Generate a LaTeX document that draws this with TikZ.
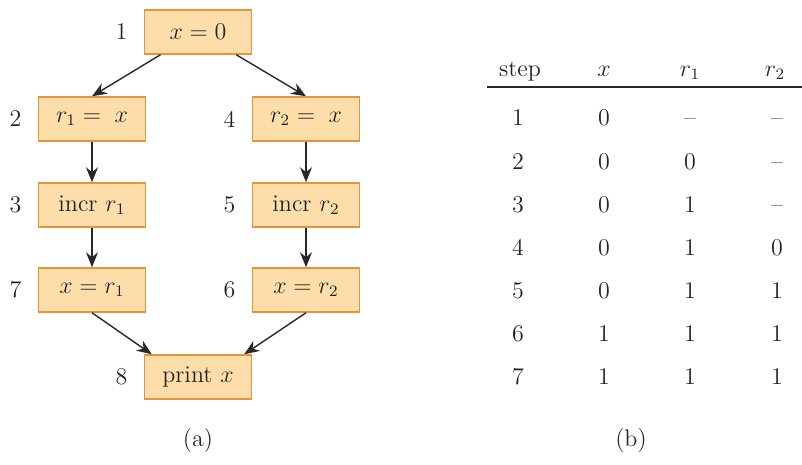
\documentclass[tikz,border=0pt]{standalone}
\usepackage{amsmath}
\usepackage{tikz}
\usetikzlibrary{arrows.meta, positioning}
\definecolor{boxfill}{RGB}{253,222,170}
\definecolor{boxline}{RGB}{230,148,58}
\definecolor{mydark}{RGB}{40,40,40}
\definecolor{mytext}{RGB}{35,35,35}
\tikzset{
  stmt/.style={rectangle, draw=boxline, fill=boxfill, line width=0.75pt,
    minimum width=53.5pt, minimum height=22pt, inner sep=0pt,
    font=\large, text=mytext},
  numlbl/.style={font=\large, text=mytext, inner sep=0pt},
  cell/.style={font=\large, text=mytext, anchor=base, inner sep=0pt},
  arrow/.style={-{Stealth[length=7.5pt, width=6pt, inset=2.5pt]},
    line width=0.7pt, color=mydark},
  rule/.style={line width=0.7pt, color=mydark}
}

\begin{document}
\begin{tikzpicture}[x=0.5pt, y=-0.5pt]
  \useasboundingbox (0,0) rectangle (802,465);
  % (a) the statements
  \node[stmt] (x0) at (198,32)  {$x = 0$};
  \node[stmt] (r1) at (92,119)  {$r_1 =\; x$};
  \node[stmt] (r2) at (306,119) {$r_2 =\; x$};
  \node[stmt] (i1) at (92,205)  {incr $r_1$};
  \node[stmt] (i2) at (306,205) {incr $r_2$};
  \node[stmt] (s1) at (92,290)  {$x = r_1$};
  \node[stmt] (s2) at (306,290) {$x = r_2$};
  \node[stmt] (pr) at (198,377) {print $x$};
  % step numbers
  \node[numlbl, left=8pt of x0] (n1) {1};
  \node[numlbl, left=8pt of r1] (n2) {2};
  \node[numlbl, left=8pt of r2] (n4) {4};
  \node[numlbl, left=8pt of i1] (n3) {3};
  \node[numlbl, left=8pt of i2] (n5) {5};
  \node[numlbl, left=8pt of s1] (n7) {7};
  \node[numlbl, left=8pt of s2] (n6) {6};
  \node[numlbl, left=8pt of pr] (n8) {8};
  % edges
  \draw[arrow] (x0) -- (r1.north);
  \draw[arrow] (x0) -- (r2.north);
  \draw[arrow] (r1) -- (i1);
  \draw[arrow] (r2) -- (i2);
  \draw[arrow] (i1) -- (s1);
  \draw[arrow] (i2) -- (s2);
  \draw[arrow] (s1.south) -- ([xshift=4pt]pr.north west);
  \draw[arrow] (s2.south) -- ([xshift=-4pt]pr.north east);
  \node[numlbl] (capa) at (198,441) {(a)};

  % (b) the trace table
  \node[cell] (hstep) at (520,76) {step};
  \node[cell] (hx)    at (604,76) {$x$};
  \node[cell] (hra)   at (690,76) {$r_1$};
  \node[cell] (hrb)   at (775,76) {$r_2$};
  \coordinate (rl) at (487,87);
  \coordinate (rr) at (802,87);
  \draw[rule] (rl) -- (rr);
  \foreach \s/\vx/\va/\vb [count=\i from 0] in
      {1/0/--/--, 2/0/0/--, 3/0/1/--, 4/0/1/0, 5/0/1/1, 6/1/1/1, 7/1/1/1} {
    \node[cell] (st\s) at (518,126+43*\i) {\s};
    \node[cell] (vx\s) at (604,126+43*\i) {\vx};
    \node[cell] (va\s) at (690,126+43*\i) {\va};
    \node[cell] (vb\s) at (777,126+43*\i) {\vb};
  }
  \node[numlbl] (capb) at (631,441) {(b)};
\end{tikzpicture}
\end{document}
